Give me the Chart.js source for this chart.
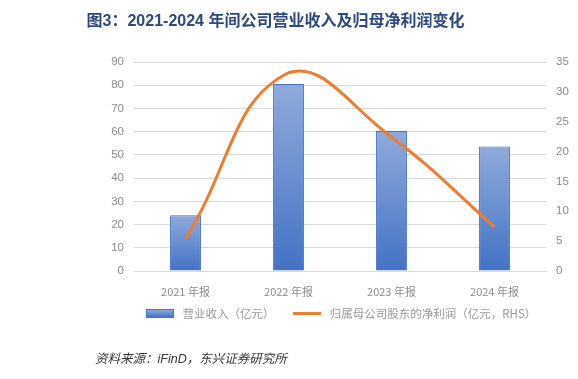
<!DOCTYPE html>
<html>
<head>
<meta charset="utf-8">
<script src="https://cdn.jsdelivr.net/npm/chart.js@4"></script>
<style>
  body { margin: 0; background: #fff; font-family: "Liberation Sans", "Noto Sans CJK SC", sans-serif; }
  #wrap { position: relative; width: 578px; height: 379px; overflow: hidden; }
  #title { position: absolute; left: 0; width: 551px; top: 7px; text-align: center;
           font-size: 16px; font-weight: bold; color: #2E4A7D; }
  #legend { position: absolute; top: 305px; left: 146px; font-size: 11.5px; color: #999;
            font-family: "Noto Sans CJK SC", sans-serif; white-space: nowrap; }
  #legend span.sw { display: inline-block; vertical-align: middle; }
  #source { position: absolute; left: 95px; top: 348px; font-size: 12.5px; font-style: italic;
            color: #333; font-family: "Liberation Sans", "Noto Sans CJK SC", sans-serif; }
  canvas { position: absolute; left: 0; top: 0; }
</style>
</head>
<body>
<div id="wrap">
  <canvas id="c" width="578" height="379"></canvas>
  <div id="title">图3：2021-2024 年间公司营业收入及归母净利润变化</div>
  <div id="legend">
    <span class="sw" style="width:26px;height:7px;background:linear-gradient(#8FAADC,#4472C4);border:1px solid #4472C4;margin-top:-2px"></span>
    <span style="margin-left:6px">营业收入（亿元）</span>
    <span class="sw" style="width:28px;height:3px;background:#ED7D31;margin-left:16px;margin-top:-2px"></span>
    <span style="margin-left:6px">归属母公司股东的净利润（亿元，RHS）</span>
  </div>
  <div id="source">资料来源：iFinD，东兴证券研究所</div>
</div>
<script>
// data
const categories = ['2021 年报', '2022 年报', '2023 年报', '2024 年报'];
const revenue = [24, 80.5, 60.3, 53.6];
const netProfit = [5.4, 33.2, 22.4, 7.4];

const GRID = '#d9d9d9';
const TICK = '#8c8c8c';

function barGradient(context) {
    const chart = context.chart;
    if (!chart.chartArea) return '#6a8fd0';
    const y = chart.scales.y;
    const top = y.getPixelForValue(context.raw);
    const base = y.getPixelForValue(0);
    const g = chart.ctx.createLinearGradient(0, top, 0, base);
    g.addColorStop(0, '#8FAADC');
    g.addColorStop(1, '#4472C4');
    return g;
}

new Chart(document.getElementById('c'), {
    data: {
        labels: categories,
        datasets: [
            {
                type: 'line',
                label: '归属母公司股东的净利润（亿元，RHS）',
                data: netProfit,
                yAxisID: 'y1',
                borderColor: '#ED7D31',
                borderWidth: 3,
                pointRadius: 0,
                tension: 0.45,
                order: 0
            },
            {
                type: 'bar',
                label: '营业收入（亿元）',
                data: revenue,
                yAxisID: 'y',
                backgroundColor: barGradient,
                borderColor: '#4472C4',
                borderWidth: 1,
                barPercentage: 0.6,
                categoryPercentage: 0.5,
                order: 1
            }
        ]
    },
    options: {
        responsive: false,
        animation: false,
        layout: { padding: { top: 62, bottom: 78, left: 0, right: 0 } },
        plugins: { legend: { display: false }, tooltip: { enabled: false } },
        scales: {
            x: {
                grid: { display: false },
                border: { color: GRID },
                ticks: { color: TICK, font: { size: 11, family: '"Noto Sans CJK SC", sans-serif' }, padding: 6 },
                afterFit: (s) => { s.height = 30; }
            },
            y: {
                position: 'left',
                min: 0, max: 90,
                ticks: { stepSize: 10, color: TICK, font: { size: 11.5, family: '"Liberation Sans", sans-serif' }, padding: 10 },
                grid: { color: GRID, lineWidth: 1, drawTicks: false },
                border: { display: false },
                afterFit: (s) => { s.width = 134; }
            },
            y1: {
                position: 'right',
                min: 0, max: 35,
                ticks: { stepSize: 5, color: TICK, font: { size: 11.5, family: '"Liberation Sans", sans-serif' }, padding: 10 },
                grid: { display: false, drawTicks: false },
                border: { display: false },
                afterFit: (s) => { s.width = 32; }
            }
        }
    }
});
</script>
</body>
</html>
